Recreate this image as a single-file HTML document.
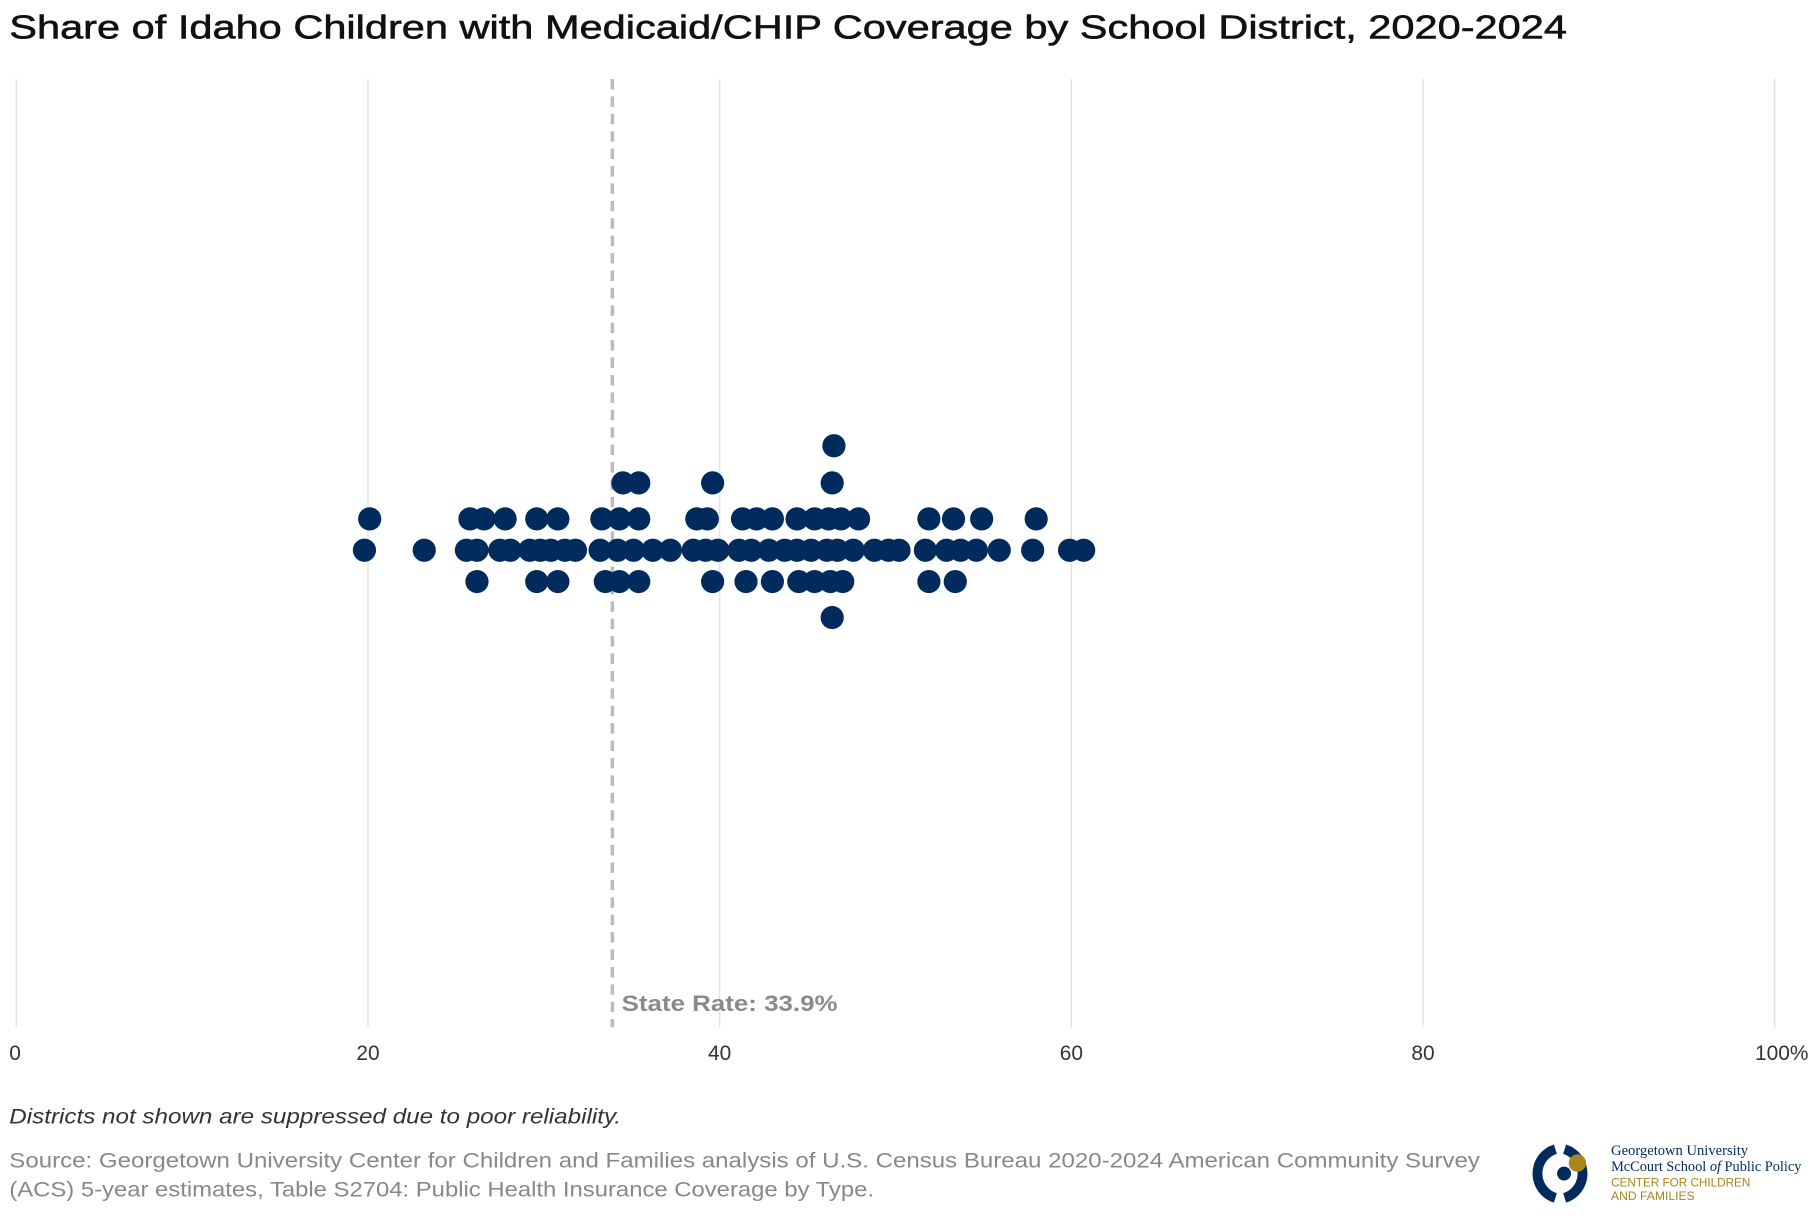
<!DOCTYPE html>
<html><head><meta charset="utf-8"><style>
html,body{margin:0;padding:0;background:#fff;}
svg{display:block;}
</style></head><body>
<svg id="chart" width="1820" height="1220" viewBox="0 0 1568 1051" xmlns="http://www.w3.org/2000/svg">
<text x="8" y="33" font-family="Liberation Sans, sans-serif" font-size="29" fill="#111" textLength="1342" lengthAdjust="spacingAndGlyphs" stroke="#111" stroke-width="0.5">Share of Idaho Children with Medicaid/CHIP Coverage by School District, 2020-2024</text>
<g id="grid"></g>
<g id="ticks"></g>
<g id="ref"></g>
<g id="dots"></g>
<text x="8" y="968" font-family="Liberation Sans, sans-serif" font-size="18" font-style="italic" fill="#333" textLength="527" lengthAdjust="spacingAndGlyphs">Districts not shown are suppressed due to poor reliability.</text>
<text font-family="Liberation Sans, sans-serif" font-size="18" fill="#888"><tspan x="8" y="1006" textLength="1267" lengthAdjust="spacingAndGlyphs">Source: Georgetown University Center for Children and Families analysis of U.S. Census Bureau 2020-2024 American Community Survey</tspan><tspan x="8" y="1031" textLength="745" lengthAdjust="spacingAndGlyphs">(ACS) 5-year estimates, Table S2704: Public Health Insurance Coverage by Type.</tspan></text>
<g>
<path d="M1340 990 A22 22 0 0 0 1340 1032" fill="none" stroke="#002b5c" stroke-width="8.5"/>
<path d="M1348 990 A22 22 0 0 1 1348 1032" fill="none" stroke="#002b5c" stroke-width="8.5"/>
<circle cx="1359" cy="1002" r="7.5" fill="#a8861a"/>
<circle cx="1347.5" cy="1011" r="6" fill="#002b5c"/>
<text x="1388" y="995" font-family="Liberation Serif, serif" font-size="12.5" fill="#002b5c" textLength="118" lengthAdjust="spacingAndGlyphs">Georgetown University</text>
<text x="1388" y="1009" font-family="Liberation Serif, serif" font-size="12.5" fill="#002b5c" textLength="164" lengthAdjust="spacingAndGlyphs">McCourt School <tspan font-style="italic">of</tspan> Public Policy</text>
<text x="1388" y="1022" font-family="Liberation Sans, sans-serif" font-size="10" fill="#a8861a" textLength="120" lengthAdjust="spacingAndGlyphs">CENTER FOR CHILDREN</text>
<text x="1388" y="1034" font-family="Liberation Sans, sans-serif" font-size="10" fill="#a8861a" textLength="72" lengthAdjust="spacingAndGlyphs">AND FAMILIES</text>
</g>
</svg>
<script>
const tickValues = [0, 20, 40, 60, 80, 100];
const tickLabels = ["0", "20", "40", "60", "80", "100%"];
const stateRate = 33.9;
const districtRates = [19.8,20.1,23.2,25.6,25.8,26.2,26.2,26.6,27.5,27.8,28.1,29.2,29.6,29.6,29.8,30.4,30.8,30.8,31.2,31.8,33.2,33.3,33.5,34.2,34.3,34.3,34.5,35.1,35.4,35.4,35.4,36.2,37.2,38.5,38.7,39.2,39.3,39.6,39.6,39.9,41.1,41.3,41.5,41.8,42.1,42.8,43.0,43.0,43.7,44.4,44.4,44.5,45.2,45.4,45.4,46.1,46.2,46.3,46.4,46.4,46.5,46.7,46.9,47.0,47.6,47.9,48.8,49.6,50.2,51.7,51.9,51.9,52.9,53.3,53.4,53.7,54.6,54.9,55.9,57.8,58.0,59.9,60.7];

const NS = "http://www.w3.org/2000/svg";
const x = v => 14 + v * 15.15;
const baseY = 474, R = 10;
function mk(tag, attrs, parent){ const e=document.createElementNS(NS,tag); for(const k in attrs) e.setAttribute(k,attrs[k]); parent.appendChild(e); return e; }

const grid = document.getElementById('grid'), ticks = document.getElementById('ticks');
tickValues.forEach((t,i)=>{
  const l = mk('line',{x1:x(t),x2:x(t),y1:68,y2:885,stroke:'#e2e2e2','stroke-width':1.2},grid);
  
  
  const tx = mk('text',{x:x(t),y:913,'text-anchor':i===0?'start':(i===tickValues.length-1?'end':'middle'),'font-family':'Liberation Sans, sans-serif','font-size':18,fill:'#333'},ticks);
  if(i===0) tx.setAttribute('x', x(t)-6);
  if(i===tickValues.length-1) tx.setAttribute('x', x(t)+29);
  tx.textContent = tickLabels[i];
  
  
});

const ref = document.getElementById('ref');
const rl = mk('line',{x1:x(stateRate),x2:x(stateRate),y1:68,y2:885,stroke:'#bbb','stroke-width':3,'stroke-dasharray':'9,6'},ref);


const rt = mk('text',{x:x(stateRate)+8,y:871,'font-family':'Liberation Sans, sans-serif','font-size':19,'font-weight':'bold',fill:'#8a8a8a',textLength:186,lengthAdjust:'spacingAndGlyphs'},ref);
rt.textContent = 'State Rate: ' + stateRate.toFixed(1) + '%';



// beeswarm layout: quantized levels, horizontal overlap allowed
const levels = [0, -27, 27, -58, 58, -90, 90, -120, 120];
const minDx = 9;
const placed = levels.map(()=>[]);
const dots = document.getElementById('dots');
districtRates.slice().sort((a,b)=>a-b).forEach(v=>{
  const cx = x(v);
  let li = 0;
  for(let k=0;k<levels.length;k++){
    if(placed[k].every(p => Math.abs(p-cx) >= minDx)){ li = k; break; }
  }
  placed[li].push(cx);
  const c = mk('circle',{cx:cx,cy:baseY+levels[li],r:R,fill:'#002b5c'},dots);
  
  
});
</script>
</body></html>
